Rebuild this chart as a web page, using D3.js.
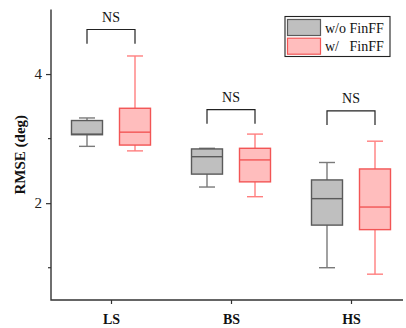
<!DOCTYPE html>
<html>
<head>
<meta charset="utf-8">
<script src="https://cdn.jsdelivr.net/npm/d3@7"></script>
<style>
  body { margin: 0; background: #fff; }
  svg { display: block; font-family: "Liberation Serif", "Times New Roman", serif; }
</style>
</head>
<body>
<svg id="chart" width="406" height="328"></svg>
<script>
// ---- data ----
const categories = ["LS", "BS", "HS"];
const seriesNames = ["w/o FinFF", "w/   FinFF"];

// [whisker low, Q1, median, Q3, whisker high]
const withoutFin = [
  [2.88, 3.06, 3.07, 3.28, 3.32],
  [2.25, 2.45, 2.72, 2.84, 2.85],
  [1.00, 1.66, 2.07, 2.36, 2.63]
];
const withFin = [
  [2.81, 2.90, 3.10, 3.47, 4.28],
  [2.10, 2.33, 2.67, 2.85, 3.07],
  [0.90, 1.59, 1.94, 2.53, 2.96]
];

// significance brackets: [top, bottom of legs]
const bracketLevels = [[4.69, 4.47], [3.45, 3.23], [3.43, 3.21]];
const bracketLabels = ["NS", "NS", "NS"];

const yTicks = [2, 4];
const yMinorTicks = [1, 3];

// ---- layout ----
const svg = d3.select("#chart");
const margin = { left: 51, right: 3, top: 9.5, bottom: 28 };
const W = 406, H = 328;

const x = d3.scalePoint()
  .domain(categories)
  .range([111, 351]);

const y = d3.scaleLinear()
  .domain([0.5, 5])
  .range([H - margin.bottom, margin.top]);

const styles = [
  { fill: "#bfbfbf", stroke: "#5a5a5a", whisker: "#7a7a7a" },
  { fill: "#ffbdbd", stroke: "#f25555", whisker: "#ff7f7f" }
];
const offsets = [-24, 24];
const boxW = 31, capW = 16;

// axes
const axisColor = "#333";
const yAxis = svg.append("g")
  .attr("transform", `translate(${margin.left},0)`)
  .call(d3.axisLeft(y).tickValues(yTicks).tickSize(5).tickPadding(4).tickFormat(d3.format("d")));
yAxis.select(".domain").remove();
yAxis.selectAll("text").attr("font-size", 15).attr("fill", "#222").attr("font-family", "Liberation Serif");
yAxis.selectAll("line").attr("stroke", axisColor).attr("stroke-width", 1.2);

svg.append("g")
  .attr("transform", `translate(${margin.left},0)`)
  .selectAll("line").data(yMinorTicks).join("line")
  .attr("x1", -3).attr("x2", 0)
  .attr("y1", d => y(d)).attr("y2", d => y(d))
  .attr("stroke", axisColor).attr("stroke-width", 1.2);

const xAxis = svg.append("g")
  .attr("transform", `translate(0,${H - margin.bottom})`)
  .call(d3.axisBottom(x).tickSize(4).tickPadding(10));
xAxis.select(".domain").remove();
xAxis.selectAll("text").attr("font-size", 14).attr("font-weight", "bold").attr("fill", "#111").attr("font-family", "Liberation Serif");
xAxis.selectAll("line").attr("stroke", axisColor).attr("stroke-width", 1.2);

// axis lines (L shape)
svg.append("path")
  .attr("d", `M${margin.left},${margin.top}V${H - margin.bottom}H${W - margin.right}`)
  .attr("fill", "none").attr("stroke", axisColor).attr("stroke-width", 1.4);

svg.append("text")
  .attr("transform", `translate(25,${y(2.75)}) rotate(-90)`)
  .attr("text-anchor", "middle")
  .attr("font-size", 15).attr("font-weight", "bold").attr("fill", "#111")
  .text("RMSE (deg)");

// boxes
const boxG = svg.append("g");
[withoutFin, withFin].forEach((series, si) => {
  const st = styles[si];
  series.forEach((s, ci) => {
    const cx = x(categories[ci]) + offsets[si];
    const [lo, q1, med, q3, hi] = s;
    const g = boxG.append("g");
    // whiskers
    g.append("line").attr("x1", cx).attr("x2", cx).attr("y1", y(hi)).attr("y2", y(q3))
      .attr("stroke", st.whisker).attr("stroke-width", 1.4);
    g.append("line").attr("x1", cx).attr("x2", cx).attr("y1", y(q1)).attr("y2", y(lo))
      .attr("stroke", st.whisker).attr("stroke-width", 1.4);
    [hi, lo].forEach(v => {
      g.append("line").attr("x1", cx - capW / 2).attr("x2", cx + capW / 2)
        .attr("y1", y(v)).attr("y2", y(v))
        .attr("stroke", st.whisker).attr("stroke-width", 1.4);
    });
    g.append("rect")
      .attr("x", cx - boxW / 2).attr("width", boxW)
      .attr("y", y(q3)).attr("height", y(q1) - y(q3))
      .attr("fill", st.fill).attr("stroke", st.stroke).attr("stroke-width", 1.4);
    g.append("line").attr("x1", cx - boxW / 2).attr("x2", cx + boxW / 2)
      .attr("y1", y(med)).attr("y2", y(med))
      .attr("stroke", st.stroke).attr("stroke-width", 1.4);
  });
});

// significance brackets
categories.forEach((c, i) => {
  const x1 = x(c) + offsets[0], x2 = x(c) + offsets[1];
  const [top, bot] = bracketLevels[i];
  svg.append("path")
    .attr("d", `M${x1},${y(bot)}V${y(top)}H${x2}V${y(bot)}`)
    .attr("fill", "none").attr("stroke", "#222").attr("stroke-width", 1.2);
  svg.append("text")
    .attr("x", x(c)).attr("y", y(top) - 8)
    .attr("text-anchor", "middle").attr("font-size", 14).attr("fill", "#111")
    .text(bracketLabels[i]);
});

// legend
const leg = svg.append("g").attr("transform", "translate(285,16.5)");
leg.append("rect").attr("width", 105).attr("height", 40)
  .attr("fill", "#fff").attr("stroke", "#222").attr("stroke-width", 1.1);
seriesNames.forEach((n, i) => {
  leg.append("rect")
    .attr("x", 2.5).attr("y", 3 + i * 18.7).attr("width", 33).attr("height", 16)
    .attr("fill", styles[i].fill).attr("stroke", styles[i].stroke).attr("stroke-width", 1.2);
  leg.append("text")
    .attr("x", 40).attr("y", 16 + i * 18.7)
    .attr("font-size", 14).attr("fill", "#111")
    .attr("xml:space", "preserve").style("white-space", "pre")
    .text(n);
});
</script>
</body>
</html>
